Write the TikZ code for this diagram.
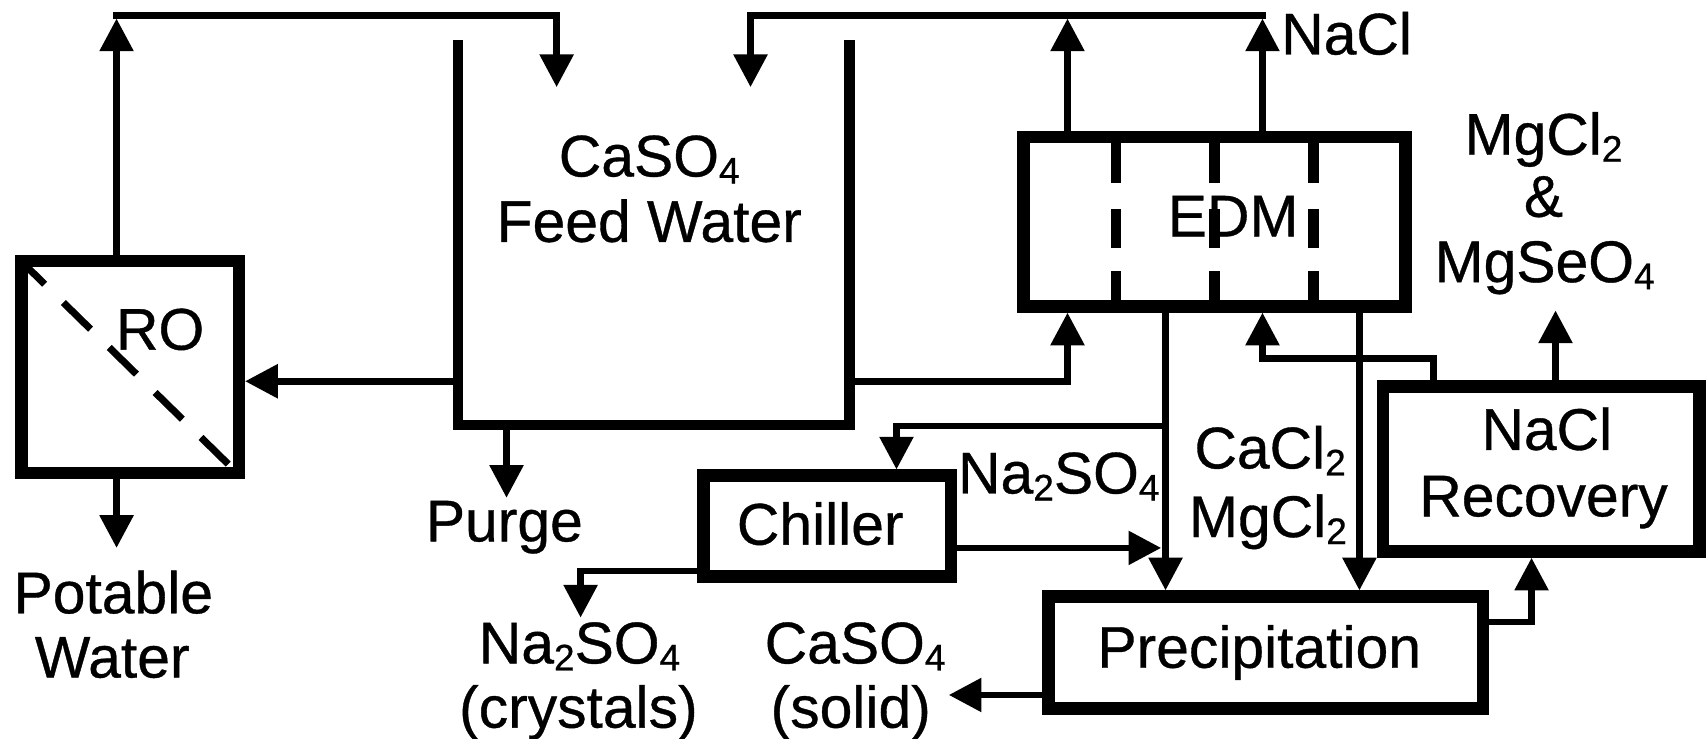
\documentclass[tikz,border=0pt]{standalone}
\usepackage{fontspec}
\setmainfont{Liberation Sans}[FakeBold=0.6]
\usetikzlibrary{arrows.meta}
\newcommand\sbs[1]{\raisebox{-0.12em}{\fontsize{34}{34}\selectfont #1}}
\begin{document}
\begin{tikzpicture}[x=1pt,y=-1pt,
  box/.style={draw,line width=11.5pt,inner sep=0pt},
  conn/.style={line width=6pt,line cap=rect},
  arrow/.style={conn,-{Triangle[length=30pt,width=30pt]}},
  lbl/.style={font=\fontsize{54}{60}\selectfont,inner sep=0pt,anchor=base},
]
\useasboundingbox (0,0) rectangle (1568,678);

% feed water tank (open top)
\coordinate (tankTL) at (420.5,37);
\coordinate (tankBL) at (420.5,390);
\coordinate (tankBR) at (780,390);
\coordinate (tankTR) at (780,37);
\draw[line width=9.5pt] (tankTL) -- (tankBL) -- (tankBR) -- (tankTR);
\node[lbl] (feed1) at (596,162) {CaSO\sbs{4}};
\node[lbl] (feed2) at (596,222) {Feed Water};

% RO
\draw[line width=6.5pt,dash pattern=on 35pt off 24pt] (16,236.4) -- (222,438.3);
\node[box,minimum width=199.5pt,minimum height=194.5pt] (RO) at (119.5,337) {};
\node[lbl] (ROt) at (147,321) {RO};

% EDM
\foreach \x in {1024.5,1115,1205.5}
  \draw[line width=10pt,dash pattern=on 43pt off 24pt on 36pt off 21pt on 40pt off 10pt] (\x,125) -- (\x,282);
\node[box,minimum width=350.5pt,minimum height=155.5pt] (EDM) at (1115,203.5) {};
\node[lbl] (EDMt) at (1132,217) {EDM};

% Chiller
\node[box,minimum width=227.5pt,minimum height=92.5pt] (CH) at (759.5,483) {};
\node[lbl] (CHt) at (753,500) {Chiller};

% Precipitation
\node[box,minimum width=398.5pt,minimum height=102.5pt] (PR) at (1162,599) {};
\node[lbl] (PRt) at (1156,613) {Precipitation};

% NaCl Recovery
\node[box,minimum width=290.5pt,minimum height=151.5pt] (REC) at (1415,430.5) {};
\node[lbl] (RECt1) at (1420,413) {NaCl};
\node[lbl] (RECt2) at (1417,474) {Recovery};

% labels
\node[lbl,anchor=base west] (nacl) at (1176,50) {NaCl};
\node[lbl] (mg1) at (1417,142) {MgCl\sbs{2}};
\node[lbl] (mg2) at (1417,199) {\&};
\node[lbl] (mg3) at (1418,259) {MgSeO\sbs{4}};
\node[lbl] (ca1) at (1166,430) {CaCl\sbs{2}};
\node[lbl] (ca2) at (1164,493) {MgCl\sbs{2}};
\node[lbl] (na) at (972,453) {Na\sbs{2}SO\sbs{4}};
\node[lbl] (pot1) at (104,563) {Potable};
\node[lbl] (pot2) at (103,622) {Water};
\node[lbl] (purge) at (463,497) {Purge};
\node[lbl] (cr1) at (532,609) {Na\sbs{2}SO\sbs{4}};
\node[lbl] (cr2) at (531,668) {(crystals)};
\node[lbl] (so1) at (785,609) {CaSO\sbs{4}};
\node[lbl] (so2) at (781,668) {(solid)};

% connectors
\coordinate (tl) at (107,14);
\coordinate (tlt) at (107,17);
\coordinate (f1) at (511,80);
\draw[arrow] (RO.north -| tl) -- (tlt);
\draw[arrow] (tl) -| (f1);

\coordinate (tk1) at (420.5,350);
\draw[arrow] (tk1) -- (tk1 -| RO.east);

\coordinate (pot) at (107,503);
\draw[arrow] (RO.south -| pot) -- (pot);

\coordinate (pg) at (465,457);
\draw[arrow] (tankBL -| pg) -- (pg);

\coordinate (tk2) at (780,350);
\coordinate (e1) at (980,350);
\draw[arrow] (tk2) -- (e1) -- (e1 |- EDM.south);

\coordinate (e2) at (980,17);
\draw[arrow] (EDM.north -| e2) -- (e2);
\coordinate (tr) at (1159,14);
\coordinate (trt) at (1159,17);
\coordinate (f2) at (689,80);
\draw[arrow] (EDM.north -| tr) -- (trt);
\draw[arrow] (tr) -| (f2);

\coordinate (e3) at (1070,391);
\draw[arrow] (EDM.south -| e3) -- (PR.north -| e3);
\coordinate (c1) at (823,391);
\draw[arrow] (e3) -- (c1) -- (c1 |- CH.north);

\coordinate (e4) at (1248,300);
\draw[arrow] (EDM.south -| e4) -- (PR.north -| e4);

\coordinate (r1) at (1316,329);
\coordinate (r2) at (1159,329);
\draw[arrow] (REC.north -| r1) -- (r1) -- (r2) -- (r2 |- EDM.south);

\coordinate (r3) at (1428,285);
\draw[arrow] (REC.north -| r3) -- (r3);

\coordinate (p1) at (1367,571);
\coordinate (p2) at (1406,571);
\draw[arrow] (PR.east |- p1) -- (p2) -- (p2 |- REC.south);

\coordinate (p3) at (871,638);
\draw[arrow] (PR.west |- p3) -- (p3);

\coordinate (ch1) at (1066,503);
\draw[arrow] (CH.east |- ch1) -- (ch1);

\coordinate (ch2) at (533,524);
\coordinate (ch3) at (533,567);
\draw[arrow] (CH.west |- ch2) -- (ch2) -- (ch3);
\end{tikzpicture}
\end{document}
